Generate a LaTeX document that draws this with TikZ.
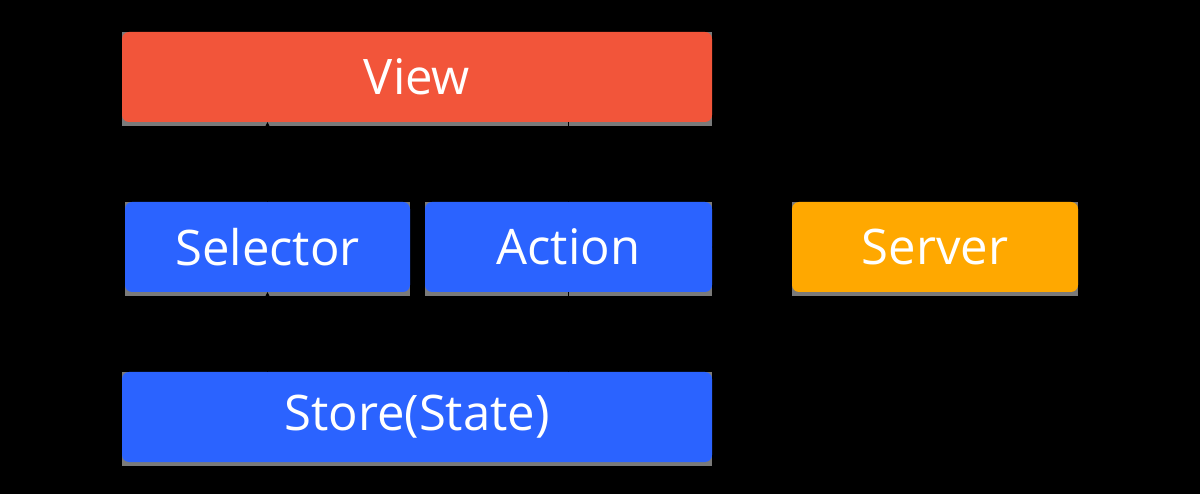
\documentclass[tikz,border=0pt]{standalone}
\usepackage{fontspec}
\setmainfont{Open Sans}
\usepackage{xcolor}
\usetikzlibrary{arrows.meta,positioning}
\definecolor{viewred}{HTML}{F2553A}
\definecolor{storeblue}{HTML}{2B63FF}
\definecolor{serverorange}{HTML}{FFA800}
\definecolor{shadowgray}{HTML}{7A7A7A}

\begin{document}
\begin{tikzpicture}[x=1pt,y=-1pt,
    box/.style={rounded corners=7pt, text=white, inner sep=0pt,
        minimum height=90pt, font=\fontsize{49}{58}\selectfont},
    arr/.style={-{Stealth[length=8pt,width=8pt]}, thin, black}]
    \fill[black] (0,0) rectangle (1200,494);
    \useasboundingbox (0,0) rectangle (1200,494);
    % shadows first, boxes on top
    \foreach \cx/\cy/\w in {417/77/590, 267.5/247/285, 568.5/247/287, 935/247/286, 417/417/590} {
        \fill[shadowgray] (\cx-\w/2,\cy-45) rectangle (\cx+\w/2,\cy+49);
    }
    \node[box, fill=viewred, minimum width=590pt] (view) at (417,77) {View};
    \node[box, fill=storeblue, minimum width=285pt] (sel) at (267.5,247) {Selector};
    \node[box, fill=storeblue, minimum width=287pt] (act) at (568.5,247) {Action};
    \node[box, fill=serverorange, minimum width=286pt] (srv) at (935,247) {Server};
    \node[box, fill=storeblue, minimum width=590pt] (store) at (417,417) {Store(State)};
    % data flow
    \draw[arr] (sel.north) -- (sel.north |- view.south);
    \draw[arr] (act.north |- view.south) -- (act.north);
    \draw[arr] (sel.south |- store.north) -- (sel.south);
    \draw[arr] (act.south) -- (act.south |- store.north);
    \draw[arr, {Stealth[length=8pt,width=8pt]}-] (act.east) -- (srv.west);
\end{tikzpicture}
\end{document}
